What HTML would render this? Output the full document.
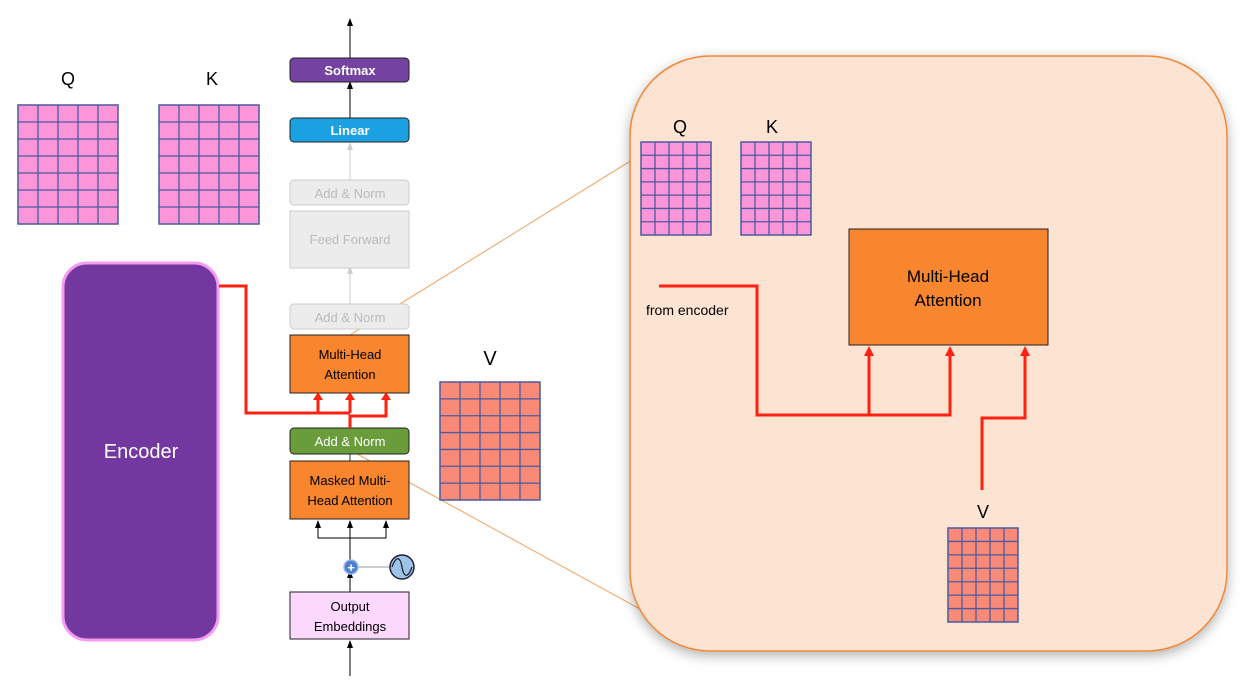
<!DOCTYPE html>
<html><head><meta charset="utf-8"><style>
body{margin:0;background:#fff}
svg{display:block;font-family:"Liberation Sans",sans-serif}
</style></head><body>
<svg width="1250" height="689" viewBox="0 0 1250 689">
<defs>
<marker id="ab" markerWidth="8" markerHeight="8" refX="4" refY="4" orient="auto"><path d="M0,1 L8,4 L0,7z" fill="#000"/></marker>
<marker id="ag" markerWidth="8" markerHeight="8" refX="4" refY="4" orient="auto"><path d="M0,1 L8,4 L0,7z" fill="#ccc"/></marker>
<marker id="ar" markerWidth="6" markerHeight="6" refX="3" refY="3" orient="auto"><path d="M0,0 L6,3 L0,6z" fill="#f21"/></marker>
<filter id="sh" x="-10%" y="-10%" width="120%" height="120%"><feDropShadow dx="0" dy="4" stdDeviation="6" flood-color="#000" flood-opacity="0.3"/></filter>
</defs>

<!-- zoom lines -->
<line x1="350" y1="335" x2="640" y2="155" stroke="#f0a060" stroke-width="1"/>
<line x1="350" y1="450" x2="660" y2="620" stroke="#f0a060" stroke-width="1"/>

<!-- Q K grids -->
<text x="68" y="85" font-size="18" text-anchor="middle">Q</text>
<text x="212" y="85" font-size="18" text-anchor="middle">K</text>
<g id="grids"></g>
<text x="490" y="365" font-size="20" text-anchor="middle">V</text>

<!-- encoder -->
<rect x="63" y="263" width="155" height="377" rx="24" fill="#7238a0" stroke="#f59cf0" stroke-width="3"/>
<text x="141" y="458" font-size="20" fill="#fff" text-anchor="middle">Encoder</text>

<!-- decoder stack arrows -->
<line x1="350" y1="58" x2="350" y2="22" stroke="#000" marker-end="url(#ab)"/>
<line x1="350" y1="118" x2="350" y2="85" stroke="#000" marker-end="url(#ab)"/>
<line x1="350" y1="180" x2="350" y2="146" stroke="#ccc" marker-end="url(#ag)"/>
<line x1="350" y1="304" x2="350" y2="270" stroke="#ccc" marker-end="url(#ag)"/>
<line x1="350" y1="454" x2="350" y2="461" stroke="#333"/>
<line x1="350" y1="676" x2="350" y2="644" stroke="#000" marker-end="url(#ab)"/>
<line x1="350" y1="592" x2="350" y2="574" stroke="#000" marker-end="url(#ab)"/>
<line x1="350" y1="560" x2="350" y2="524" stroke="#000" marker-end="url(#ab)"/>
<polyline points="318,524 318,538 386,538 386,524" fill="none" stroke="#000"/>
<line x1="318" y1="530" x2="318" y2="524" stroke="#000" marker-end="url(#ab)"/>
<line x1="386" y1="530" x2="386" y2="524" stroke="#000" marker-end="url(#ab)"/>
<line x1="358" y1="567" x2="390" y2="567" stroke="#999"/>
<circle cx="351" cy="567" r="7" fill="#4a7fd0" stroke="#9bb8e8" stroke-width="1.5"/>
<text x="351" y="572" font-size="13" font-weight="bold" fill="#fff" text-anchor="middle">+</text>
<circle cx="402" cy="567" r="12" fill="#9cc3e8" stroke="#223" stroke-width="1.5"/>
<path d="M392,567 C396,556 400,556 402,567 C404,578 408,578 412,567" fill="none" stroke="#223" stroke-width="1.3"/>

<!-- decoder boxes -->
<rect x="290" y="58" width="119" height="24" rx="4" fill="#7442a0" stroke="#222"/>
<text x="350" y="75" font-size="13" font-weight="bold" fill="#fff" text-anchor="middle">Softmax</text>
<rect x="290" y="118" width="119" height="24" rx="4" fill="#1ba1e2" stroke="#222"/>
<text x="350" y="135" font-size="13" font-weight="bold" fill="#fff" text-anchor="middle">Linear</text>
<rect x="290" y="180" width="119" height="25" rx="4" fill="#ececec" stroke="#ccc"/>
<text x="350" y="198" font-size="13" fill="#bbb" text-anchor="middle">Add &amp; Norm</text>
<rect x="290" y="211" width="119" height="57" fill="#ececec" stroke="#ccc"/>
<text x="350" y="244" font-size="13" fill="#bbb" text-anchor="middle">Feed Forward</text>
<rect x="290" y="304" width="119" height="25" rx="4" fill="#ececec" stroke="#ccc"/>
<text x="350" y="322" font-size="13" fill="#bbb" text-anchor="middle">Add &amp; Norm</text>
<rect x="290" y="335" width="119" height="58" fill="#f7862e" stroke="#222"/>
<text x="350" y="359" font-size="13" text-anchor="middle">Multi-Head</text>
<text x="350" y="379" font-size="13" text-anchor="middle">Attention</text>
<rect x="290" y="428" width="119" height="26" rx="4" fill="#6a9c3c" stroke="#222"/>
<text x="350" y="446" font-size="13" fill="#fff" text-anchor="middle">Add &amp; Norm</text>
<rect x="290" y="461" width="119" height="58" fill="#f7862e" stroke="#222"/>
<text x="350" y="485" font-size="13" text-anchor="middle">Masked Multi-</text>
<text x="350" y="505" font-size="13" text-anchor="middle">Head Attention</text>
<rect x="290" y="592" width="119" height="47" fill="#fdd8fd" stroke="#222"/>
<text x="350" y="611" font-size="13" text-anchor="middle">Output</text>
<text x="350" y="631" font-size="13" text-anchor="middle">Embeddings</text>

<!-- red connections -->
<g fill="none" stroke="#f21" stroke-width="3">
<polyline points="219,286 246,286 246,413 350,413"/>
<polyline points="350,428 350,416 386,416 386,397"/>
<line x1="318" y1="413" x2="318" y2="397"/>
<line x1="350" y1="413" x2="350" y2="397"/>
</g>
<g fill="#f21"><path d="M313,400 L318,392 L323,400z"/><path d="M345,400 L350,392 L355,400z"/><path d="M381,400 L386,392 L391,400z"/></g>

<!-- zoom panel -->
<rect x="630" y="56" width="597" height="595" rx="80" fill="#fde3d2" stroke="#f0883a" stroke-width="1.5" filter="url(#sh)"/>
<text x="680" y="133" font-size="18" text-anchor="middle">Q</text>
<text x="772" y="133" font-size="18" text-anchor="middle">K</text>
<text x="983" y="518" font-size="18" text-anchor="middle">V</text>
<rect x="849" y="229" width="199" height="116" fill="#f7862e" stroke="#222"/>
<text x="948" y="282" font-size="17" text-anchor="middle">Multi-Head</text>
<text x="948" y="306" font-size="17" text-anchor="middle">Attention</text>
<text x="646" y="315" font-size="14">from encoder</text>
<g fill="none" stroke="#f21" stroke-width="3">
<polyline points="659,286 757,286 757,415 950,415 950,352"/>
<line x1="869" y1="415" x2="869" y2="352"/>
<polyline points="982,490 982,418 1025,418 1025,352"/>
</g>
<g fill="#f21"><path d="M864,356 L869,346 L874,356z"/><path d="M945,356 L950,346 L955,356z"/><path d="M1020,356 L1025,346 L1030,356z"/></g>
<g id="grids2"></g>
</svg>
<script>
const gridCols = 5, gridRows = 7;
const gridSpecs = [
 ['q-grid',18,105,100,119,'#fc96d8'],
 ['k-grid',159,105,100,119,'#fc96d8'],
 ['v-grid',440,382,100,118,'#fa8a78'],
 ['panel-q-grid',641,142,70,93,'#fc96d8'],
 ['panel-k-grid',741,142,70,93,'#fc96d8'],
 ['panel-v-grid',948,528,70,94,'#fa8a78']
];
const NS='http://www.w3.org/2000/svg';
gridSpecs.forEach((s,i)=>{
  const g=document.createElementNS(NS,'g');
  
  
  const [_,x,y,w,h,c]=s;
  let html='<rect x="'+x+'" y="'+y+'" width="'+w+'" height="'+h+'" fill="'+c+'" stroke="#4a5aa0" stroke-width="1.5"/>';
  for(let k=1;k<gridCols;k++){const xx=x+w*k/gridCols;html+='<line x1="'+xx+'" y1="'+y+'" x2="'+xx+'" y2="'+(y+h)+'" stroke="#4a5aa0" stroke-width="1.3"/>';}
  for(let k=1;k<gridRows;k++){const yy=y+h*k/gridRows;html+='<line x1="'+x+'" y1="'+yy+'" x2="'+(x+w)+'" y2="'+yy+'" stroke="#4a5aa0" stroke-width="1.3"/>';}
  g.innerHTML=html;
  document.getElementById(i<3?'grids':'grids2').appendChild(g);
});
</script>
</body></html>
